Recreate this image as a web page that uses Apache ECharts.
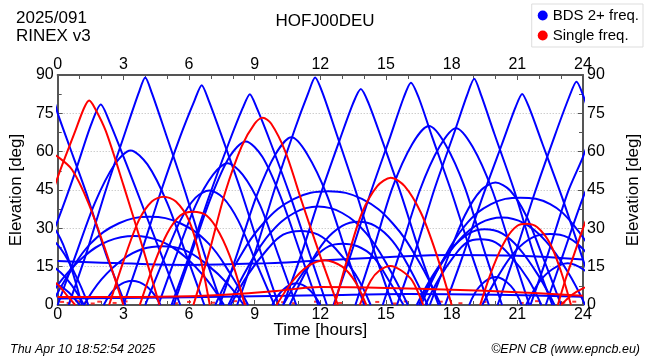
<!DOCTYPE html>
<html><head><meta charset="utf-8">
<script src="https://cdn.jsdelivr.net/npm/echarts@6/dist/echarts.min.js"></script>
<style>html,body{margin:0;padding:0;background:#fff}#c{width:650px;height:360px}</style>
</head><body><div id="c"></div>
<script>
// ---- data (time [h], elevation [deg]) ----
const xTicks = {min: 0, max: 24, step: 3};
const yTicks = {min: 0, max: 90, step: 15};

// BDS satellites tracked on 2+ frequencies: high MEO passes
const bdsHigh = [
  [[-4.1,0],[-3.2,20],[-2.3,44],[-1.4,66],[-0.8,81],[-0.5,87],[-0.2,81],[0,75],[0.5,63],[1.3,44],[2.2,20],[3.1,0]],
  [[-1.5,0],[-0.7,18],[0,33],[0.8,52],[1.5,70],[1.97,78.5],[2.4,71],[3.1,56],[4.0,36],[4.9,16],[5.6,0]],
  [[0.5,0],[1.3,20],[2.2,45],[3.1,68],[3.7,83],[4.0,89],[4.3,83],[4.9,68],[5.8,45],[6.7,20],[7.5,0]],
  [[3.0,0],[3.8,20],[4.7,44],[5.6,66],[6.25,80],[6.58,86],[6.9,80],[7.5,66],[8.4,44],[9.3,20],[10.1,0]],
  [[5.2,0],[6.0,19],[6.9,42],[7.8,63],[8.45,77],[8.78,82.5],[9.1,77],[9.75,63],[10.65,42],[11.55,19],[12.3,0]],
  [[8.2,0],[9.0,20],[9.9,45],[10.8,68],[11.45,83],[11.76,89],[12.1,83],[12.7,68],[13.6,45],[14.5,20],[15.3,0]],
  [[10.3,0],[11.1,19],[12.0,43],[12.9,65],[13.5,79],[13.85,84.5],[14.2,79],[14.8,65],[15.7,43],[16.6,19],[17.4,0]],
  [[12.6,0],[13.4,20],[14.3,44],[15.2,66],[15.8,81],[16.14,87],[16.5,81],[17.1,66],[18.0,44],[18.9,20],[19.7,0]],
  [[15.5,0],[16.3,20],[17.2,45],[18.1,67],[18.7,82],[19.03,88.5],[19.35,82],[19.95,67],[20.85,45],[21.75,20],[22.6,0]],
  [[17.7,0],[18.5,19],[19.4,42],[20.3,63],[20.9,77],[21.22,82.6],[21.55,77],[22.15,63],[23.05,42],[23.95,19],[24.7,0]],
  [[20.1,0],[20.9,20],[21.8,44],[22.7,66],[23.35,81],[23.7,87.4],[24.05,81],[24.6,66],[25.5,44],[26.4,20],[27.2,0]]
];
// medium passes
const bdsMid = [
  [[0.0,0],[0.8,19],[1.7,40],[2.6,55],[3.33,60.5],[4.1,55],[5.0,40],[5.9,19],[6.7,0]],
  [[5.3,0],[6.1,20],[7.0,42],[7.85,58],[8.59,64],[9.35,58],[10.2,42],[11.1,20],[11.9,0]],
  [[7.4,0],[8.2,20],[9.1,43],[9.95,59],[10.68,65.6],[11.4,59],[12.3,43],[13.2,20],[14.0,0]],
  [[4.6,0],[5.4,19],[6.3,39],[7.1,51],[7.76,55.5],[8.45,51],[9.25,39],[10.1,19],[10.9,0]],
  [[4.0,0],[4.8,17],[5.6,33],[6.3,42],[6.93,44.8],[7.55,42],[8.25,33],[9.05,17],[9.9,0]],
  [[13.6,0],[14.4,21],[15.3,46],[16.2,63],[16.96,70],[17.7,63],[18.6,46],[19.5,21],[20.3,0]],
  [[14.85,0],[15.65,21],[16.55,45],[17.45,62],[18.2,69.2],[18.95,62],[19.85,45],[20.75,21],[21.55,0]],
  [[17.0,0],[17.8,18],[18.6,35],[19.35,45],[20.0,47.9],[20.65,45],[21.4,35],[22.2,18],[23.0,0]],
  [[21.6,0],[22.4,20],[23.3,44],[24.0,58],[24.6,72],[25.2,80]],
  [[22.3,0],[23.1,20],[24.0,42],[24.8,58]]
];
// low passes
const bdsLow = [
  [[-0.3,0],[0.5,12],[1.5,24],[2.8,32],[4.2,34.5],[5.6,32],[6.9,24],[7.9,12],[8.7,0]],
  [[-0.6,0],[0.2,10],[1.2,19],[2.3,25],[3.5,27],[4.7,25],[5.8,19],[6.8,10],[7.6,0]],
  [[1.2,0],[2.0,10],[3.0,18],[3.9,22],[4.8,23],[5.8,21.5],[6.8,16],[7.8,8],[8.5,0]],
  [[-1.0,38],[0,28],[0.6,15],[1.1,0]],
  [[-1,30],[0,23.5],[0.8,12],[1.4,0]],
  [[-1,18],[0,13.7],[0.7,7],[1.2,0]],
  [[-0.5,9],[0,8],[0.5,5],[1.0,0]],
  [[2.1,0],[2.7,7],[3.4,9.5],[4.1,7],[4.7,0]],
  [[9.8,0],[10.3,6],[10.9,8.5],[11.5,6],[12.0,0]],
  [[7.2,0],[8.2,17],[9.4,32],[10.8,41.5],[12.37,44.5],[13.9,41.5],[15.3,32],[16.5,17],[17.5,0]],
  [[7.8,0],[8.7,15],[9.7,28],[10.8,36],[11.9,38.5],[13.0,36],[14.1,28],[15.1,15],[16.0,0]],
  [[7.9,0],[8.7,12],[9.6,22],[10.3,27.5],[11.1,29],[11.9,27.5],[12.7,22],[13.6,12],[14.3,0]],
  [[10.6,0],[11.4,14],[12.2,25],[13.0,31],[13.73,32.6],[14.5,31],[15.3,25],[16.1,14],[16.9,0]],
  [[10.3,0],[11.0,10],[11.8,19],[12.4,23],[13.0,24],[13.7,23],[14.4,19],[15.1,10],[15.8,0]],
  [[16.6,0],[17.5,16],[18.6,31],[19.8,39.5],[21.14,42],[22.5,39.5],[23.6,31],[24.6,18],[25.5,0]],
  [[16.5,0],[17.3,13],[18.3,25],[19.3,32],[20.3,34.2],[21.3,32],[22.3,25],[23.3,13],[24.1,0]],
  [[16.4,0],[17.1,11],[18.0,22],[18.8,28],[19.5,29.6],[20.3,28],[21.1,22],[22.0,11],[22.7,0]],
  [[16.8,0],[17.4,10],[18.1,19],[18.7,24.5],[19.3,25.7],[20.0,24.5],[20.7,19],[21.5,10],[22.1,0]],
  [[19.4,0],[20.1,11],[20.9,21],[21.7,26.5],[22.5,27.8],[23.3,26.5],[24.1,21],[24.9,11],[25.6,0]],
  [[21.4,0],[22.0,9],[22.6,14],[23.3,16.3],[24.0,14],[24.6,9],[25.2,0]],
  [[18.8,0],[19.3,7.5],[20.0,11],[20.7,7.5],[21.2,0]]
];
// geostationary tracks
const bdsGeo = [
  [[0,17.2],[3,16.3],[6,15.7],[9,16.2],[12,17.4],[15,18.7],[18,19.6],[21,19.3],[24,17.8]],
  [[0,2.5],[6,3],[12,3.8],[16,4.3],[20,4.0],[24,3.2]]
];

// single-frequency satellites
const singlePasses = [
  [[-1.9,0],[-1.0,24],[0,50],[0.8,68],[1.2,77],[1.44,80],[1.7,77],[2.2,68],[3.0,47],[3.9,22],[4.65,0]],
  [[-1.0,55],[-0.3,59],[0,58],[0.65,53],[1.4,40],[2.2,21],[3.0,0]],
  [[2.35,0],[3.0,17],[3.7,33],[4.3,40.5],[4.84,42.4],[5.4,40.5],[6.0,33],[6.5,19],[6.95,0]],
  [[3.75,0],[4.4,16],[5.0,28],[5.6,35],[6.17,36.5],[6.8,35],[7.4,28],[8.0,16],[8.55,0]],
  [[6.2,0],[6.9,20],[7.65,44],[8.4,62],[9.0,71],[9.37,73.3],[9.75,71],[10.4,60],[11.17,40],[12.0,19],[12.8,0]],
  [[10.0,0],[10.7,9],[11.4,15],[12.2,17.5],[13.0,15],[13.6,9],[14.1,0]],
  [[12.65,0],[13.3,20],[13.9,36],[14.6,46.5],[15.22,49.8],[15.85,46.5],[16.6,36],[17.3,20],[18.0,0]],
  [[13.8,0],[14.3,9.5],[14.7,13.5],[15.2,15.3],[15.7,13.5],[16.2,9.5],[16.7,0]],
  [[19.3,0],[19.9,15],[20.5,26],[21.0,31],[21.42,31.8],[21.9,30.5],[22.5,24],[23.0,13],[23.45,0]],
  [[22.85,0],[23.2,10],[23.6,20],[24,30],[24.4,39]],
  [[23.0,0],[23.5,4],[24,6.5],[24.5,8]],
  [[-0.5,11],[0,8],[0.4,4],[0.8,0]]
];
const singleGeo = [
  [[0,3.1],[3,3.1],[6,3.4],[8,4.2],[10,5.5],[12,7.0],[15,6.7],[18,6.0],[21,5.0],[24,3.6]]
];
const singleDots = [
  [0.2,1.2],[0.5,0.8],[0.9,1.5],[1.3,1.0],[1.6,0.6],[1.9,1.3],[2.6,0.8],[3.1,1.4],[5.4,0.7],[6.0,1.2],
  [7.1,0.9],[8.1,1.5],[8.6,0.6],[10.3,1.1],[10.8,0.7],[11.8,1.3],[12.9,0.8],[14.6,1.2],[15.4,0.6],[15.9,1.4],
  [16.6,0.9],[17.5,1.3],[18.4,0.7],[19.5,1.2],[21.2,0.8],[21.9,1.5],[23.1,0.9],[23.6,1.3]
];

const BLUE = '#0000ff', RED = '#ff0000';
const BDS = 'BDS 2+ freq.', SINGLE = 'Single freq.';
const FONT = 'Liberation Sans';

function lineSeries(name, color, data, smooth) {
  return {
    type: 'line', name: name, data: data, smooth: smooth, showSymbol: false,
    symbol: 'none', clip: true, silent: true,
    lineStyle: {color: color, width: 2}, itemStyle: {color: color},
    xAxisIndex: 0, yAxisIndex: 0
  };
}
const series = [];
bdsHigh.forEach(d => series.push(lineSeries(BDS, BLUE, d, 0.25)));
bdsMid.forEach(d => series.push(lineSeries(BDS, BLUE, d, 0.3)));
bdsLow.forEach(d => series.push(lineSeries(BDS, BLUE, d, 0.4)));
bdsGeo.forEach(d => series.push(lineSeries(BDS, BLUE, d, 0.4)));
singlePasses.forEach(d => series.push(lineSeries(SINGLE, RED, d, 0.3)));
singleGeo.forEach(d => series.push(lineSeries(SINGLE, RED, d, 0.4)));
series.push({type: 'scatter', name: SINGLE, data: singleDots, symbol: 'rect', symbolSize: [4, 2],
  itemStyle: {color: RED}, silent: true, xAxisIndex: 0, yAxisIndex: 0});

const axisColor = '#555';
function xAx(pos, withName) {
  return {
    type: 'value', position: pos, min: xTicks.min, max: xTicks.max, interval: xTicks.step,
    name: withName ? 'Time [hours]' : '', nameLocation: 'middle', nameGap: 17, nameMoveOverlap: false,
    nameTextStyle: {fontSize: 17, color: '#000', fontFamily: FONT},
    axisLine: {show: true, onZero: false, lineStyle: {color: axisColor, width: 2}},
    axisTick: {show: true, inside: true, length: 5, lineStyle: {color: axisColor}},
    minorTick: {show: true, splitNumber: 3, length: 4, lineStyle: {color: axisColor}},
    axisLabel: {fontSize: 16, color: '#000', margin: 2, fontFamily: FONT},
    splitLine: {show: false}
  };
}
function yAx(pos, grid) {
  return {
    type: 'value', position: pos, min: yTicks.min, max: yTicks.max, interval: yTicks.step,
    name: 'Elevation [deg]', nameLocation: 'middle', nameRotate: 90, nameGap: pos === 'left' ? 31 : 42,
    nameTextStyle: {fontSize: 17, color: '#000', fontFamily: FONT},
    axisLine: {show: true, onZero: false, lineStyle: {color: axisColor, width: 2}},
    axisTick: {show: true, inside: true, length: 5, lineStyle: {color: axisColor}},
    minorTick: {show: true, splitNumber: 2, length: 4, lineStyle: {color: axisColor}},
    axisLabel: {fontSize: 16, color: '#000', margin: 4, fontFamily: FONT},
    splitLine: {show: grid, lineStyle: {color: '#b8b8b8', type: [1, 2], width: 1}}
  };
}

const chart = echarts.init(document.getElementById('c'), null, {renderer: 'canvas'});
chart.setOption({
  animation: false,
  backgroundColor: '#fff',
  textStyle: {fontFamily: FONT},
  title: [
    {text: '2025/091\nRINEX v3', left: 11, top: 4,
     textStyle: {fontSize: 17, fontWeight: 'normal', color: '#000', lineHeight: 18, fontFamily: FONT}},
    {text: 'HOFJ00DEU', left: 'center', top: 8,
     textStyle: {fontSize: 17, fontWeight: 'normal', color: '#000', fontFamily: FONT}},
    {text: 'Thu Apr 10 18:52:54 2025', left: 5, top: 338,
     textStyle: {fontSize: 12.5, fontWeight: 'normal', fontStyle: 'italic', color: '#000', fontFamily: FONT}},
    {text: '©EPN CB (www.epncb.eu)', right: 5, top: 338,
     textStyle: {fontSize: 12.5, fontWeight: 'normal', fontStyle: 'italic', color: '#000', fontFamily: FONT}}
  ],
  legend: {
    data: [{name: BDS, icon: 'circle'}, {name: SINGLE, icon: 'circle'}],
    orient: 'vertical', right: 7, top: 4, itemWidth: 10, itemHeight: 10, itemGap: 5,
    padding: [4, 4, 4, 6], borderColor: '#ddd', borderWidth: 1, selectedMode: false,
    textStyle: {fontSize: 15, color: '#000', fontFamily: FONT}
  },
  grid: {left: 54, right: 67, top: 75, bottom: 55, containLabel: false},
  xAxis: [xAx('bottom', true), xAx('top', false)],
  yAxis: [yAx('left', true), yAx('right', false)],
  series: series
});
</script></body></html>
